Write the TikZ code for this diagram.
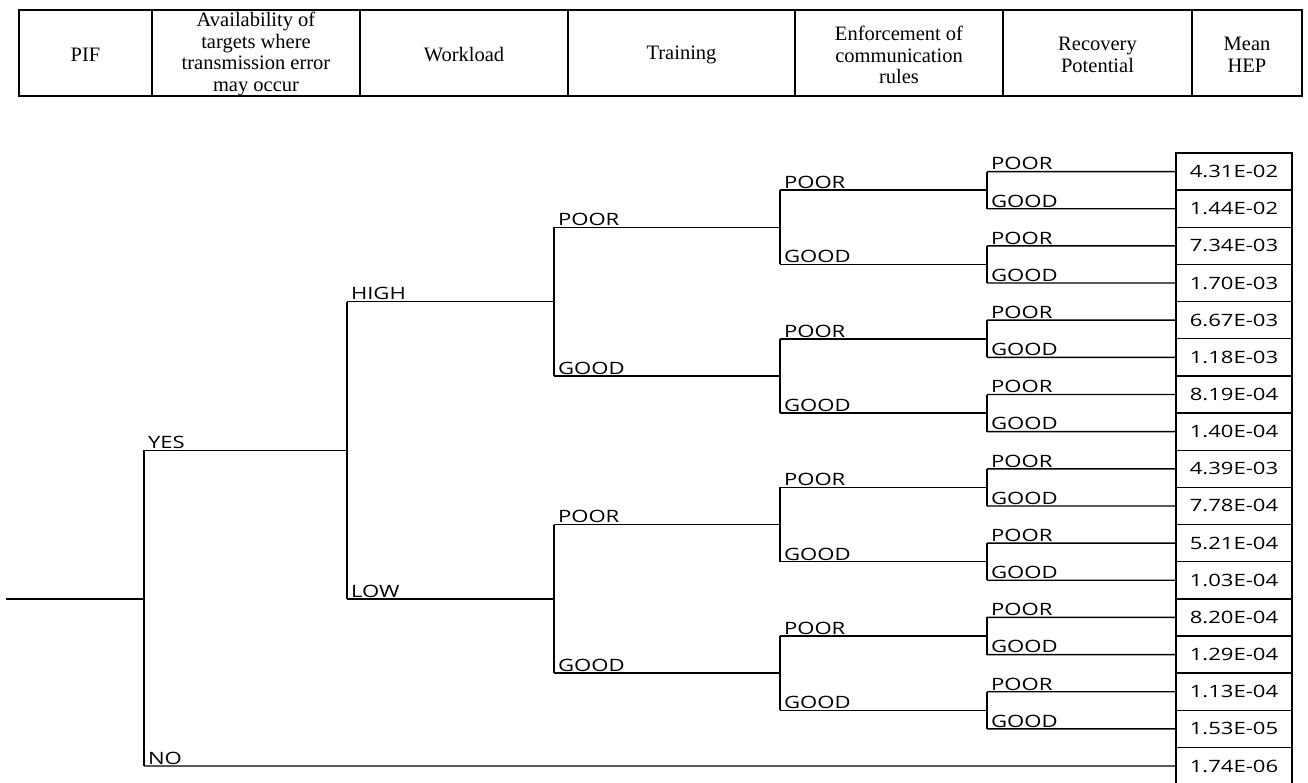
\documentclass[tikz,border=0pt]{standalone}
\usepackage{fontspec}
\setmainfont{Liberation Serif}
\newfontfamily\branchfont[FakeStretch=1.3]{Open Sans}
\usepackage{tikz}

\begin{document}
\begin{tikzpicture}
			[x=1pt,y=-1pt,
			%Styles
			table line/.style={line width=1.8pt},
			tree line/.style={line width=1.4pt},
			head/.style={align=center,inner sep=0pt,font=\fontsize{20.5}{21.5}\selectfont},
			branch/.style={anchor=south west,inner xsep=4pt,inner ysep=1.5pt,outer sep=0pt,
				font=\branchfont\fontsize{17}{17}\selectfont},
			hepbox/.style={draw,line width=1.4pt,minimum width=116pt,minimum height=37.15pt,
				inner sep=0pt,font=\branchfont\fontsize{17}{17}\selectfont}
			]
			\useasboundingbox (0,0) rectangle (1308,783);
			
			%The header
			\draw[table line] (19,10) rectangle (1302,96);
			\foreach \x in {152,360,568,795,1003,1192}
				\draw[table line] (\x,10) -- (\x,96);
			
			\node[head] (hpif) at (85.5,55) {PIF};
			\node[head] (havail) at (256,54) {Availability of\\targets where\\transmission error\\may occur};
			\node[head] (hwork) at (464,55) {Workload};
			\node[head] (htrain) at (681.5,55) {Training};
			\node[head] (henf) at (899,55) {Enforcement of\\communication\\rules};
			\node[head] (hrec) at (1097.5,55) {Recovery\\Potential};
			\node[head] (hhep) at (1247,55) {Mean\\HEP};
			
			%Mean HEP values
			\foreach \v [count=\n] in {4.31E-02,1.44E-02,7.34E-03,1.70E-03,6.67E-03,1.18E-03,
				8.19E-04,1.40E-04,4.39E-03,7.78E-04,5.21E-04,1.03E-04,8.20E-04,1.29E-04,
				1.13E-04,1.53E-05,1.74E-06}
				\node[hepbox] (hep\n) at (1234,134.45+37.15*\n) {\v};
			
			%Branch labels
			\coordinate (start) at (6,598.8);
			\node[branch] (yes) at (144,450.2) {YES};
			\node[branch] (no) at (144,766) {NO};
			
			\node[branch] (wl0) at (347,301.6) {HIGH};
			\node[branch] (wl1) at (347,598.8) {LOW};
			
			\node[branch] (trn0) at (554,227.3) {POOR};
			\node[branch] (trn1) at (554,375.9) {GOOD};
			\node[branch] (trn2) at (554,524.5) {POOR};
			\node[branch] (trn3) at (554,673.1) {GOOD};
			
			\node[branch] (enf0) at (780,190.2) {POOR};
			\node[branch] (enf1) at (780,264.5) {GOOD};
			\node[branch] (enf2) at (780,338.8) {POOR};
			\node[branch] (enf3) at (780,413.1) {GOOD};
			\node[branch] (enf4) at (780,487.4) {POOR};
			\node[branch] (enf5) at (780,561.7) {GOOD};
			\node[branch] (enf6) at (780,636) {POOR};
			\node[branch] (enf7) at (780,710.3) {GOOD};
			
			\foreach \i in {0,2,...,14}
				\node[branch] (rec\i) at (987,171.6+37.15*\i) {POOR};
			\foreach \i in {1,3,...,15}
				\node[branch] (rec\i) at (987,171.6+37.15*\i) {GOOD};
			
			%The tree
			\begin{scope}[tree line]
				\draw (start) -- (start -| yes.south west);
				\draw (yes.south west) -- (no.south west);
				\draw (no.south west) -- (hep17.west);
				\draw (wl0.south west) |- (yes.south west) -| (wl1.south west);
				\draw (trn0.south west) |- (wl0.south west) -| (trn1.south west);
				\draw (trn2.south west) |- (wl1.south west) -| (trn3.south west);
				\foreach \k in {0,...,3}{
					\pgfmathtruncatemacro\a{2*\k}
					\pgfmathtruncatemacro\b{2*\k+1}
					\draw (enf\a.south west) |- (trn\k.south west) -| (enf\b.south west);
				}
				\foreach \j in {0,...,7}{
					\pgfmathtruncatemacro\a{2*\j}
					\pgfmathtruncatemacro\b{2*\j+1}
					\draw (rec\a.south west) |- (enf\j.south west) -| (rec\b.south west);
				}
				\foreach \i [count=\n] in {0,...,15}
					\draw (rec\i.south west) -- (hep\n.west);
			\end{scope}
		\end{tikzpicture}
\end{document}
